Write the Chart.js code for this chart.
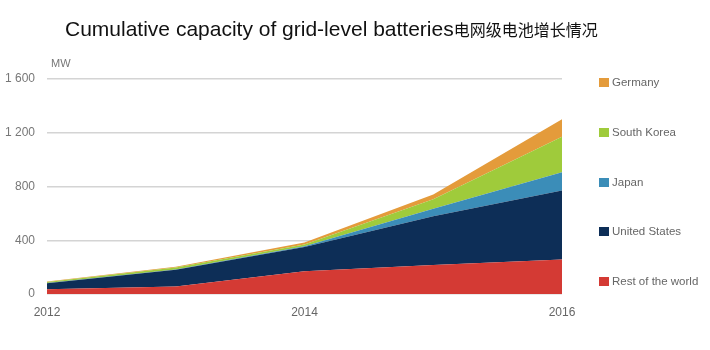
<!DOCTYPE html>
<html><head><meta charset="utf-8">
<script src="https://cdn.jsdelivr.net/npm/chart.js@4/dist/chart.umd.min.js"></script>
<style>
html,body{margin:0;padding:0;background:#fff;}
#wrap{position:relative;width:710px;height:350px;overflow:hidden;}
#c{position:absolute;left:0;top:0;}
#title{position:absolute;left:65px;top:17px;font-family:"Liberation Sans",Arial,sans-serif;font-size:21px;color:#111;white-space:nowrap;}
#title .cn{font-family:"Noto Sans CJK SC",sans-serif;font-size:16px;}
#unit{position:absolute;left:51px;top:57px;font-family:"Liberation Sans",Arial,sans-serif;font-size:11px;color:#777;}
#legend{position:absolute;left:599px;top:0;font-family:"Liberation Sans",Arial,sans-serif;font-size:11.5px;color:#666;}
#legend .it{position:absolute;left:0;white-space:nowrap;height:14px;line-height:14px;}
#legend .sw{display:inline-block;width:10px;height:9px;margin-right:3px;vertical-align:-1px;}
</style></head>
<body><div id="wrap">
<canvas id="c" width="710" height="350"></canvas>
<div id="title">Cumulative capacity of grid-level batteries<span class="cn">电网级电池增长情况</span></div>
<div id="unit">MW</div>
<div id="legend"></div>
</div>
<script>
const years = [2012, 2013, 2014, 2015, 2016];
const xTickLabels = [2012, 2014, 2016];
const yTicks = [0, 400, 800, 1200, 1600];
const seriesNames = ["Rest of the world", "United States", "Japan", "South Korea", "Germany"];
const restOfWorld = [35, 55, 170, 215, 257];
const unitedStates = [45, 125, 180, 363, 513];
const japan = [2, 3, 6, 57, 136];
const southKorea = [8, 15, 12, 70, 264];
const germany = [3, 5, 15, 35, 131];
const colors = ["#D43A34", "#0D2E57", "#3B8DB8", "#9FCB3B", "#E49B3B"];

const seriesValues = [restOfWorld, unitedStates, japan, southKorea, germany];
const datasets = seriesNames.map((name, i) => ({
  label: name,
  data: years.map((y, j) => ({x: y, y: seriesValues[i][j]})),
  backgroundColor: colors[i],
  borderColor: colors[i],
  borderWidth: 0,
  pointRadius: 0,
  tension: 0,
  fill: i === 0 ? 'origin' : '-1'
}));

function fmt(v){ return String(v).replace(/\B(?=(\d{3})+(?!\d))/g, ' '); }

new Chart(document.getElementById('c'), {
  type: 'line',
  data: {datasets},
  options: {
    responsive: false,
    animation: false,
    devicePixelRatio: 1,
    layout: {padding: {left: 0, right: 148, top: 79, bottom: 0}},
    plugins: {legend: {display: false}, tooltip: {enabled: false}},
    scales: {
      x: {
        type: 'linear', min: 2012, max: 2016,
        grid: {display: false, drawTicks: false},
        border: {display: false},
        afterBuildTicks: (ax) => { ax.ticks = xTickLabels.map(v => ({value: v})); },
        afterFit: (ax) => { ax.height = 56; },
        ticks: {padding: 11, color: '#666', font: {family: '"Liberation Sans", Arial, sans-serif', size: 12}, callback: v => String(v), maxRotation: 0, autoSkip: false}
      },
      y: {
        stacked: true, min: 0, max: 1600,
        afterBuildTicks: (ax) => { ax.ticks = yTicks.map(v => ({value: v})); },
        afterFit: (ax) => { ax.width = 47; },
        grid: {color: '#d4d4d4', lineWidth: 1.5, drawTicks: false},
        border: {display: false},
        ticks: {padding: 12, color: '#777', font: {family: '"Liberation Sans", Arial, sans-serif', size: 12}, callback: v => fmt(v)}
      }
    }
  }
});

const leg = document.getElementById('legend');
const legendTops = {"Germany": 82, "South Korea": 132, "Japan": 182, "United States": 231, "Rest of the world": 281};
for (let i = seriesNames.length - 1; i >= 0; i--) {
  const d = document.createElement('div');
  d.className = 'it';
  d.style.top = (legendTops[seriesNames[i]] - 7) + 'px';
  d.innerHTML = '<span class="sw" style="background:' + colors[i] + '"></span>' + seriesNames[i];
  leg.appendChild(d);
}
</script>
</body></html>
